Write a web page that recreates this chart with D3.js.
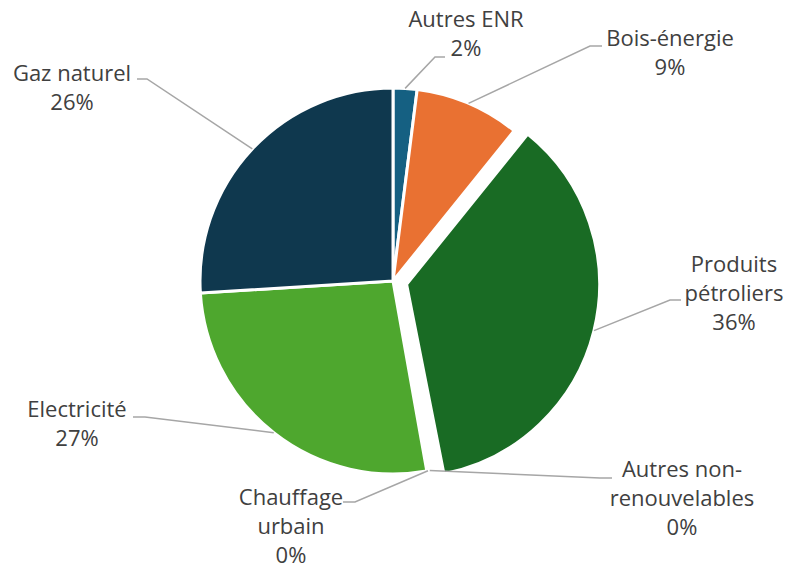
<!DOCTYPE html>
<html>
<head>
<meta charset="utf-8">
<script src="https://cdn.jsdelivr.net/npm/d3@7"></script>
<style>
  html, body { margin: 0; padding: 0; background: #ffffff; }
  svg { display: block; }
</style>
</head>
<body>
<svg id="chart" width="787" height="569"></svg>
<script>
// Energy mix by source (share of consumption, %)
const categories = ["Autres ENR", "Bois-énergie", "Produits pétroliers", "Autres non-renouvelables", "Chauffage urbain", "Electricité", "Gaz naturel"];
const shares = [2.0, 8.8, 36.1, 0.1, 0.2, 26.8, 26.0];
const labelLines = [["Autres ENR"], ["Bois-énergie"], ["Produits", "pétroliers"], ["Autres non-", "renouvelables"], ["Chauffage", "urbain"], ["Electricité"], ["Gaz naturel"]];
const colors = ["#156082", "#E97132", "#196B24", "#A02B93", "#0F9ED5", "#4EA72E", "#0F384E"];
const explodedSlices = ["Produits pétroliers"];

// Label placement: text anchor (center x, first baseline) and leader elbow/end
const labelLayout = [
  { x: 466, y: 27,  elbow: [435, 57],  end: [445, 57] },
  { x: 670, y: 46,  elbow: [590, 46],  end: [602, 46] },
  { x: 734, y: 272, elbow: [670, 300], end: [681, 300] },
  { x: 682, y: 477, elbow: [600, 478], end: [612, 478] },
  { x: 291, y: 505, elbow: [355, 502], end: [343, 502] },
  { x: 77,  y: 417, elbow: [145, 417], end: [133, 417] },
  { x: 72,  y: 81,  elbow: [147, 79],  end: [137, 79] }
];

const cx = 393, cy = 281, radius = 193, explodeOffset = 14, lineHeight = 29;

const svg = d3.select("#chart");
const g = svg.append("g").attr("transform", `translate(${cx},${cy})`);

const data = categories.map((c, i) => ({ name: c, value: shares[i], color: colors[i], layout: labelLayout[i], lines: labelLines[i] }));

const pie = d3.pie().sort(null).value(d => d.value).startAngle(0).endAngle(2 * Math.PI);
const arc = d3.arc().innerRadius(0).outerRadius(radius);
const arcs = pie(data);

function sliceShift(d) {
  if (!explodedSlices.includes(d.data.name)) return [0, 0];
  const mid = (d.startAngle + d.endAngle) / 2;
  return [explodeOffset * Math.sin(mid), -explodeOffset * Math.cos(mid)];
}

// Slices
g.selectAll("path.slice")
  .data(arcs)
  .join("path")
  .attr("class", "slice")
  .attr("d", arc)
  .attr("transform", d => { const s = sliceShift(d); return `translate(${s[0]},${s[1]})`; })
  .attr("fill", d => d.data.color)
  .attr("stroke", "#ffffff")
  .attr("stroke-width", 3)
  .attr("stroke-linejoin", "round");

// Leader lines: from the slice edge at its mid-angle, through an elbow, to the label
const leaders = svg.append("g");
arcs.forEach(d => {
  const mid = (d.startAngle + d.endAngle) / 2;
  const s = sliceShift(d);
  const start = [cx + s[0] + radius * Math.sin(mid), cy + s[1] - radius * Math.cos(mid)];
  const L = d.data.layout;
  leaders.append("path")
    .attr("d", d3.line()([start, L.elbow, L.end]))
    .attr("fill", "none")
    .attr("stroke", "#A6A6A6")
    .attr("stroke-width", 1.5);
});

// Labels: category name and rounded share
const fmt = v => `${Math.round(v)}%`;
const labels = svg.append("g")
  .attr("font-family", "'Open Sans', 'Noto Sans', sans-serif")
  .attr("font-size", 22)
  .attr("fill", "#404040")
  .attr("text-anchor", "middle");

arcs.forEach(d => {
  const L = d.data.layout;
  const lines = d.data.lines.concat([fmt(d.data.value)]);
  const t = labels.append("text").attr("x", L.x).attr("y", L.y);
  lines.forEach((ln, i) => {
    t.append("tspan").attr("x", L.x).attr("y", L.y + i * lineHeight).text(ln);
  });
});
</script>
</body>
</html>
